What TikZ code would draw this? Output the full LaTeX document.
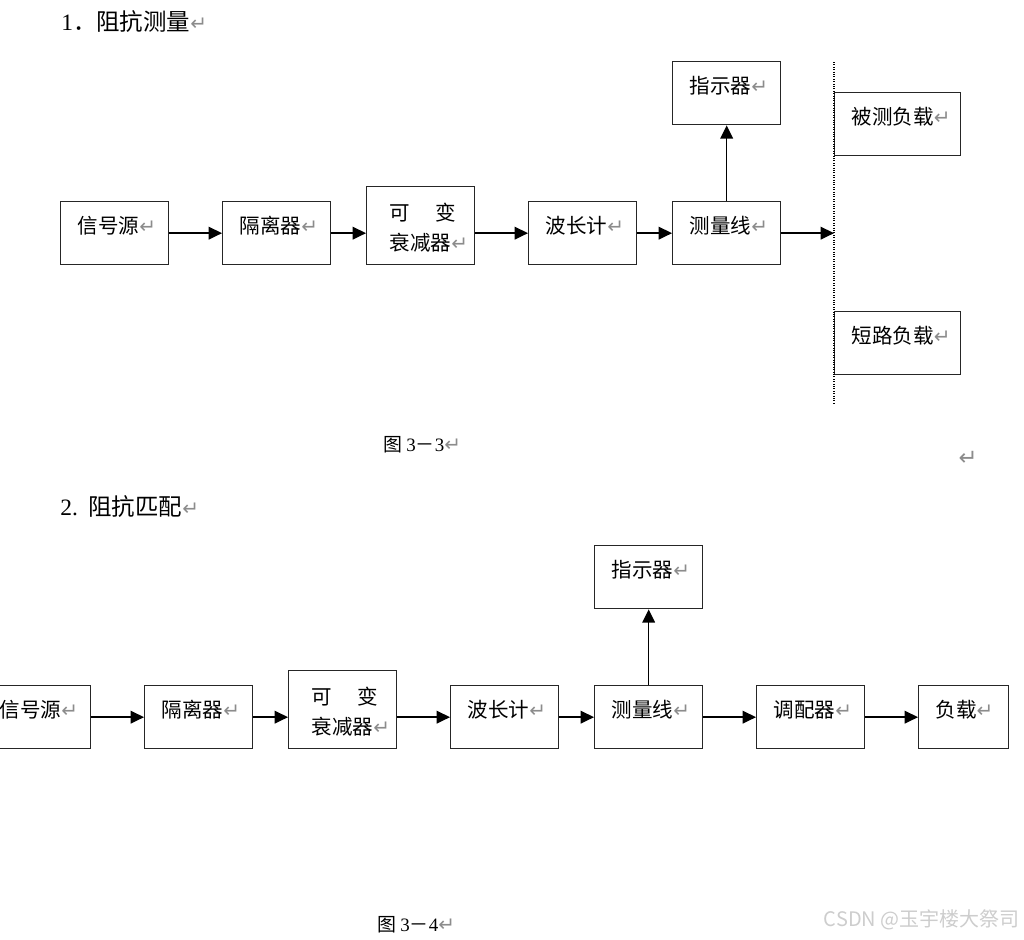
\documentclass[tikz,border=0pt]{standalone}
\usepackage{fontspec}
\setmainfont{Noto Sans CJK SC}
\newfontfamily\latinfont{Liberation Serif}
\newfontfamily\markfont{DejaVu Sans}
\usetikzlibrary{arrows.meta,positioning}
\definecolor{markgray}{RGB}{140,140,140}
\definecolor{wmgray}{RGB}{205,205,205}
\newcommand{\ret}[1][15pt]{{\markfont\fontsize{#1}{#1}\selectfont\color{markgray}\symbol{"21B5}}}
\newcommand{\boxfont}{\fontsize{15.4pt}{22.5pt}\selectfont}

\tikzset{
  blk/.style={draw=black!85, line width=1pt, inner sep=0pt, anchor=north west,
    text width=#1, align=left, text height=24pt, text depth=23.25pt,
    font=\boxfont, execute at begin node={\hspace*{12.75pt}}},
  blk/.default=81pt,
  tallblk/.style={blk, text height=25.5pt, text depth=33pt},
  heading/.style={anchor=west, inner sep=0pt, font=\fontsize{17.6pt}{20pt}\selectfont},
  caption/.style={anchor=west, inner sep=0pt, font=\fontsize{14.2pt}{16pt}\selectfont},
  arr/.style={-{Triangle[length=10pt,width=9.5pt]}, line width=1.1pt},
}

\begin{document}
\begin{tikzpicture}[x=0.75pt,y=-0.75pt]
\useasboundingbox (0,0) rectangle (1024,939);
\clip (0,0) rectangle (1024,939);
% 1: impedance measurement
\node[heading] (head1) at (61,22) {{\latinfont 1}．阻抗测量\ret};
\node[blk] (src1) at (60,201) {信号源\ret};
\node[blk] (iso1) at (222,201) {隔离器\ret};
\node[tallblk] (att1) at (366,186)
  {\hspace*{4.5pt}可\hspace{1.25em}变\\\hspace*{17.25pt}衰减器\ret};
\node[blk] (wave1) at (528,201) {波长计\ret};
\node[blk] (line1) at (672,201) {测量线\ret};
\node[blk] (ind1) at (672,61) {指示器\ret};
\node[blk=94.5pt] (dut1) at (834,92) {被测负载\ret};
\node[blk=94.5pt] (short1) at (834,311) {短路负载\ret};
\coordinate (cuttop) at (834,62);
\coordinate (cutbot) at (834,404);
\draw[densely dotted, line width=0.8pt] (cuttop) -- (cutbot);
\draw[arr] (src1) -- (iso1);
\draw[arr] (iso1.east) -- (iso1.east -| att1.west);
\draw[arr] (att1.east |- wave1.west) -- (wave1.west);
\draw[arr] (wave1) -- (line1);
\draw[arr] (line1.east) -- (line1.east -| cuttop);
\draw[arr] (line1) -- (ind1);
\node[caption] (cap1) at (383,445) {图 {\latinfont 3}－{\latinfont 3}\ret};
\node (eol) at (968,458) {\ret[17pt]};
% 2: impedance matching
\node[heading] (head2) at (60,507) {{\latinfont 2.}\hspace{0.45em}阻抗匹配\ret};
\node[blk] (src2) at (-18,685) {信号源\ret};
\node[blk] (iso2) at (144,685) {隔离器\ret};
\node[tallblk] (att2) at (288,670)
  {\hspace*{4.5pt}可\hspace{1.25em}变\\\hspace*{17.25pt}衰减器\ret};
\node[blk] (wave2) at (450,685) {波长计\ret};
\node[blk] (line2) at (594,685) {测量线\ret};
\node[blk] (ind2) at (594,545) {指示器\ret};
\node[blk] (tuner2) at (756,685) {调配器\ret};
\node[blk=67.5pt] (load2) at (918,685) {负载\ret};
\draw[arr] (src2) -- (iso2);
\draw[arr] (iso2.east) -- (iso2.east -| att2.west);
\draw[arr] (att2.east |- wave2.west) -- (wave2.west);
\draw[arr] (wave2) -- (line2);
\draw[arr] (line2) -- (tuner2);
\draw[arr] (tuner2) -- (load2);
\draw[arr] (line2) -- (ind2);
\node[caption] (cap2) at (377,925) {图 {\latinfont 3}－{\latinfont 4}\ret};
\node[anchor=east, inner sep=0pt, text=wmgray, font=\fontsize{15pt}{17pt}\selectfont]
  (mark) at (1020,920) {CSDN @玉宇楼大祭司};
\end{tikzpicture}
\end{document}
